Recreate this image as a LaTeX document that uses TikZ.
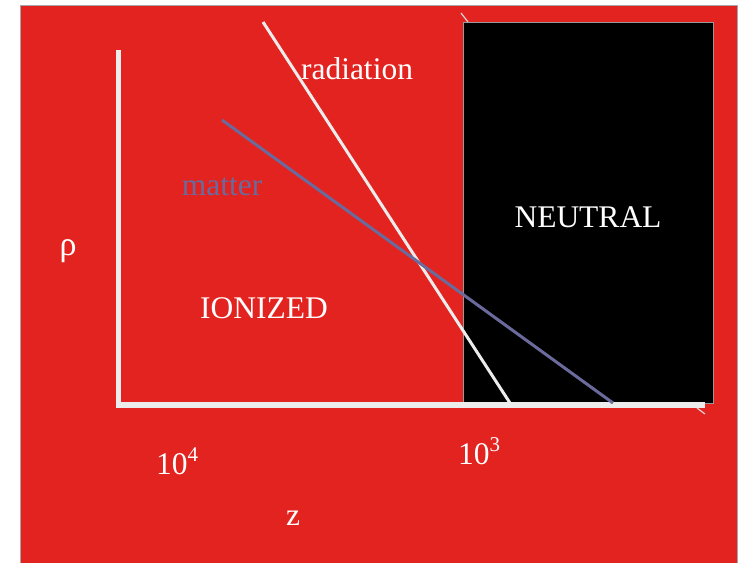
\documentclass[tikz,border=0pt]{standalone}
\usepackage{fontspec}
\setmainfont{Liberation Serif}
\definecolor{bgred}{HTML}{E32320}
\definecolor{matterc}{HTML}{6A6A9C}
\definecolor{axisc}{HTML}{ECECEC}
\newcommand{\sups}[1]{\raisebox{0.4em}{\fontsize{21}{21}\selectfont #1}}
\begin{document}
\begin{tikzpicture}[x={(1pt,0)},y={(0,-1pt)},
  lbl/.style={inner sep=0pt,font=\fontsize{31.5}{31.5}\selectfont,text=white},
  axisline/.style={draw=axisc,line width=5pt},
  artifact/.style={draw=axisc!80!gray,line width=1.2pt}]
\useasboundingbox (0,0) rectangle (739,563);
\fill[white] (0,0) rectangle (739,563);
\fill[bgred] (20,6) rectangle (737,563);
\draw[gray!70,line width=0.8pt] (20,563) -- (20,5.5) -- (737,5.5) -- (737,563);
% neutral region
\node[draw=gray!80,line width=1pt,fill=black,minimum width=250pt,minimum height=381pt,anchor=north west,inner sep=0pt] (box) at (463,22) {};
\node[lbl] (neutral) at (588,217) {NEUTRAL};
% artifacts
\coordinate (a1) at (461,13); \coordinate (a2) at (468,22);
\coordinate (b1) at (697,408); \coordinate (b2) at (705,414);
\draw[artifact] (a1) -- (a2);
\draw[artifact] (b1) -- (b2);
% axes
\coordinate (ytop) at (118,50);
\coordinate (origin) at (118,405);
\coordinate (xend) at (705,405);
\draw[axisline] (ytop) -- (origin);
\draw[draw=axisc,line width=6pt] ([xshift=-2.5pt]origin) -- (xend);
% lines
\coordinate (r1) at (263,22); \coordinate (r2) at (510,403);
\coordinate (m1) at (222,120); \coordinate (m2) at (613,403);
\draw[axisc,line width=3pt] (r1) -- (r2);
\draw[matterc,line width=3pt] (m1) -- (m2);
% labels
\node[lbl] (rad) at (357,69) {radiation};
\node[lbl,text=matterc] (mat) at (222,187) {matter};
\node[lbl] (ion) at (264,308) {IONIZED};
\node[lbl,font=\fontsize{34}{34}\selectfont] (rho) at (68,251) {ρ};
\node[lbl] (t4) at (177,461) {10\sups{4}};
\node[lbl] (t3) at (479,451) {10\sups{3}};
\node[lbl] (z) at (293,518) {z};
\end{tikzpicture}
\end{document}
